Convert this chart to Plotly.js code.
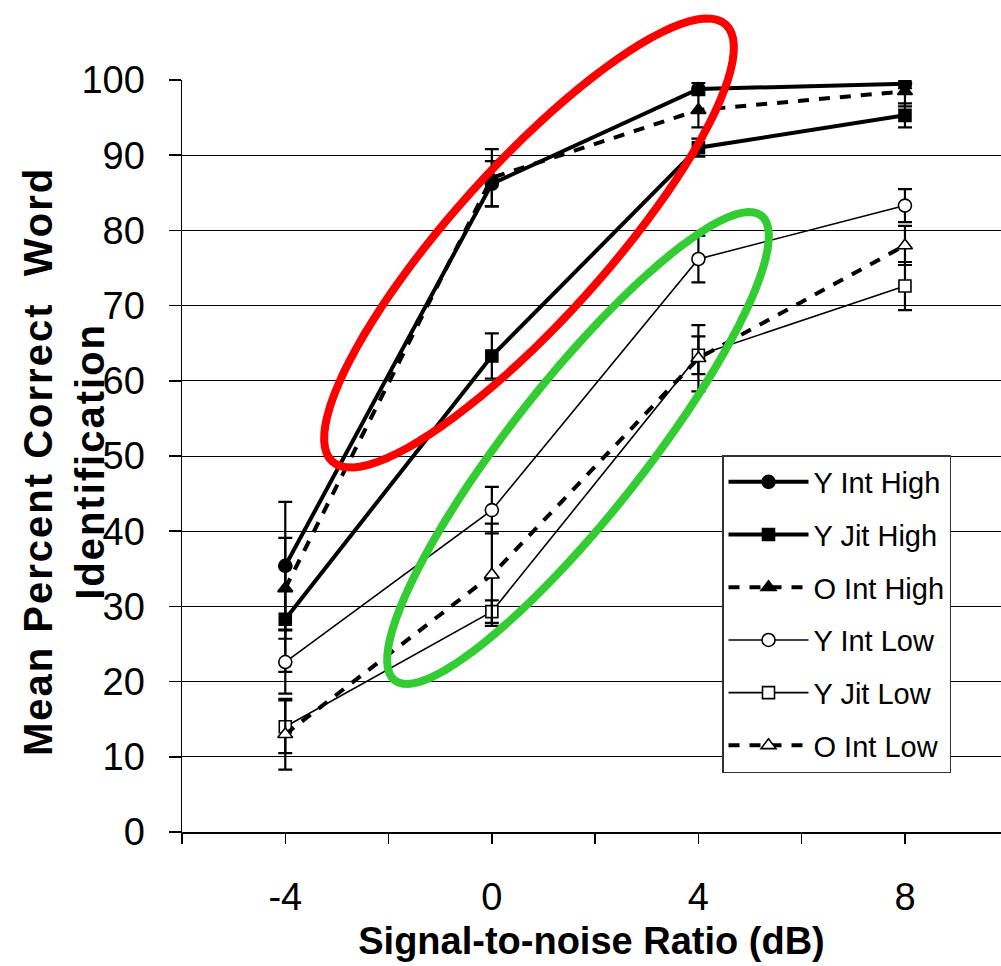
<!DOCTYPE html>
<html>
<head>
<meta charset="utf-8">
<script src="https://cdn.plot.ly/plotly-3.0.1.min.js"></script>
<style>
html,body{margin:0;padding:0;background:#fff;}
.annotation-text{letter-spacing:2px;}
</style>
</head>
<body>
<div id="chart" style="width:1001px;height:966px;"></div>
<script>
// ---- data ----
const snr = [-4, 0, 4, 8];
const tickVals = [-6, -4, -2, 0, 2, 4, 6, 8];
const tickText = ['', '-4', '', '0', '', '4', '', '8'];
const seriesNames = ['Y Int High', 'Y Jit High', 'O Int High', 'Y Int Low', 'Y Jit Low', 'O Int Low'];
const yIntHigh = [35.4, 86.2, 98.8, 99.5];
const yJitHigh = [28.3, 63.3, 91.0, 95.3];
const oIntHigh = [32.4, 87.0, 96.0, 98.5];
const yIntLow  = [22.6, 42.8, 76.2, 83.3];
const yJitLow  = [14.0, 29.3, 63.4, 72.6];
const oIntLow  = [13.0, 34.2, 63.0, 78.0];
const yIntHighErr = [8.5, 3.0, 0.8, 0.6];
const yJitHighErr = [7.0, 3.0, 1.2, 1.6];
const oIntHighErr = [6.7, 3.8, 2.3, 2.0];
const yIntLowErr  = [4.2, 3.1, 3.1, 2.2];
const yJitLowErr  = [3.5, 1.5, 2.5, 3.2];
const oIntLowErr  = [4.7, 6.8, 4.4, 2.6];

// ---- layout constants ----
const W = 1001, H = 966;
const M = {l: 182, r: 0, t: 80, b: 134};
const PW = W - M.l - M.r, PH = H - M.t - M.b;
const FONT = 'Liberation Sans, Arial, sans-serif';

function err(arr) {
  return {type: 'data', array: arr, visible: true, color: '#000', thickness: 2.2, width: 7};
}
function trace(name, y, e, symbol, fill, lw, dash, group) {
  return {
    type: 'scatter', mode: 'lines+markers', name: name, x: snr, y: y,
    legendgroup: group,
    line: {color: '#000', width: lw, dash: dash},
    marker: {symbol: symbol, size: symbol === 'square' ? 12 : 13, color: fill,
             line: {color: '#000', width: 1.6}},
    error_y: err(e)
  };
}
const DASH = '11px,10px';
const data = [
  trace(seriesNames[0], yIntHigh, yIntHighErr, 'circle', '#000', 4, 'solid', 'g1'),
  trace(seriesNames[1], yJitHigh, yJitHighErr, 'square', '#000', 4, 'solid', 'g2'),
  trace(seriesNames[2], oIntHigh, oIntHighErr, 'triangle-up', '#000', 4, DASH, 'g3'),
  trace(seriesNames[3], yIntLow, yIntLowErr, 'circle', '#fff', 1.6, 'solid', 'g4'),
  trace(seriesNames[4], yJitLow, yJitLowErr, 'square', '#fff', 1.6, 'solid', 'g5'),
  trace(seriesNames[5], oIntLow, oIntLowErr, 'triangle-up', '#fff', 4, DASH, 'g6')
];

// ---- highlight ellipses (pixel geometry -> paper coords) ----
function ellipsePath(cx, cy, a, b, angDeg) {
  const t = angDeg * Math.PI / 180;
  let d = '';
  const N = 96;
  for (let i = 0; i <= N; i++) {
    const th = 2 * Math.PI * i / N;
    const ex = a * Math.cos(th), ey = b * Math.sin(th);
    const px = cx + ex * Math.cos(t) - ey * Math.sin(t);
    const py = cy - (ex * Math.sin(t) + ey * Math.cos(t));
    const X = (px - M.l) / PW, Y = (M.t + PH - py) / PH;
    d += (i === 0 ? 'M' : 'L') + X.toFixed(5) + ',' + Y.toFixed(5);
  }
  return d + 'Z';
}
const shapes = [
  {type: 'path', xref: 'paper', yref: 'paper', layer: 'above',
   path: ellipsePath(529, 243, 294, 77, 48), line: {color: '#ff0000', width: 8}},
  {type: 'path', xref: 'paper', yref: 'paper', layer: 'above',
   path: ellipsePath(578, 448, 296, 67, 51.7), line: {color: 'rgb(51,204,51)', width: 8}}
];

const layout = {
  width: W, height: H,
  margin: M,
  paper_bgcolor: '#fff', plot_bgcolor: '#fff',
  showlegend: true,
  font: {family: FONT, color: '#000'},
  xaxis: {
    range: [-6, -6 + PW / 51.64], tickmode: 'array', tickvals: tickVals, ticktext: tickText,
    showgrid: false, zeroline: false, showline: true, linecolor: '#000', linewidth: 1.5,
    ticks: 'outside', ticklen: 10, tickwidth: 1.5, tickcolor: '#000',
    tickfont: {family: FONT, size: 38, color: '#000'}, ticklabelstandoff: 21,
    title: {text: 'Signal-to-noise Ratio (dB)', font: {family: FONT, size: 38, weight: 'bold', color: '#000'}, standoff: 10}
  },
  yaxis: {
    range: [0, 100], tickvals: [0,10,20,30,40,50,60,70,80,90,100],
    showgrid: true, gridcolor: '#000', gridwidth: 1, zeroline: false,
    showline: true, linecolor: '#000', linewidth: 1.5,
    ticks: 'outside', ticklen: 12, tickwidth: 1.5, tickcolor: '#000',
    tickfont: {family: FONT, size: 38, color: '#000'}, ticklabelstandoff: 16
  },
  legend: {
    x: (722 - M.l) / PW, y: (M.t + PH - 455) / PH, xanchor: 'left', yanchor: 'top',
    bgcolor: '#fff', bordercolor: '#333', borderwidth: 1.5,
    font: {family: FONT, size: 29, color: '#000'},
    traceorder: 'grouped', tracegroupgap: 12, itemwidth: 80
  },
  annotations: [{
    xref: 'paper', yref: 'paper', x: (64 - M.l) / PW, y: (M.t + PH - 462) / PH,
    xanchor: 'center', yanchor: 'middle', showarrow: false, textangle: -90,
    text: 'Mean Percent Correct\u00a0 Word<br>Identification',
    font: {family: FONT, size: 40, weight: 'bold', color: '#000'}
  }],
  shapes: shapes
};

Plotly.newPlot('chart', data, layout, {displayModeBar: false, staticPlot: true});
</script>
</body>
</html>
